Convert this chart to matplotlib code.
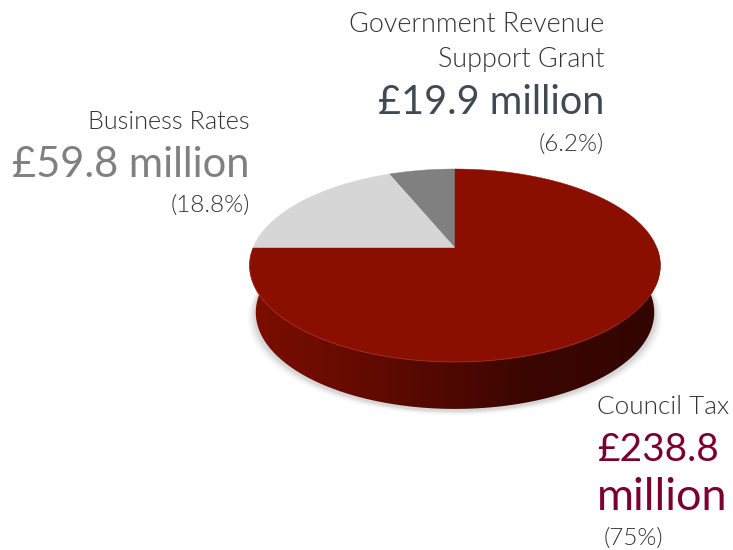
import os
import numpy as np
import matplotlib
matplotlib.use("Agg")
import matplotlib.pyplot as plt
from matplotlib import font_manager
from matplotlib.colors import LinearSegmentedColormap
from matplotlib.patches import Polygon

plt.rcParams['font.family'] = ['Lato', 'DejaVu Sans']

# values from the chart
categories = ['Council Tax', 'Business Rates', 'Government Revenue\nSupport Grant']
amounts = [238.8, 59.8, 19.9]
percent_labels = ['(75%)', '(18.8%)', '(6.2%)']
shares = [75.0, 18.8, 6.2]
slice_colors = ['#8a0f00', '#d6d6d6', '#808080']

# geometry of the tilted disc, in pixels
cx, cy = 455, 248
rx, ry, k = 202, 93.3, 0.181
depth = 47


def light_font(size):
    # weight='light' picks the hairline face here, so look the file up by name
    for path in font_manager.findSystemFonts():
        if os.path.basename(path).lower() == 'lato-light.ttf':
            return font_manager.FontProperties(fname=path, size=size)
    return font_manager.FontProperties(family='Lato', size=size)


def project(theta, scale=1.0, drop=0):
    # perspective view of a point on the unit circle
    u, v = np.cos(theta), np.sin(theta)
    w = 1 + k * v
    return cx + scale * rx * u / w, cy - ry * v / w + drop


fig = plt.figure(figsize=(7.33, 5.5), dpi=100)
ax = fig.add_axes([0, 0, 1, 1])
ax.set_xlim(0, 733)
ax.set_ylim(550, 0)
ax.axis('off')

# soft shadow under the disc
t = np.linspace(0, 2 * np.pi, 200)
for grow, alpha in zip([1.035, 1.025, 1.015, 1.006], [0.025, 0.035, 0.045, 0.06]):
    x, y = project(t, scale=0.975 * grow, drop=49)
    ax.fill(x, y + (grow - 1) * 120, color='black', alpha=alpha, lw=0, zorder=1)

# side wall: a left-to-right gradient clipped to the wall outline
wall = LinearSegmentedColormap.from_list('wall', ['#7c0e00', '#5e0a00', '#3c0600', '#320500'])
th = np.linspace(np.pi, 2 * np.pi, 300)
xt, yt = project(th)
xb, yb = project(th[::-1], scale=0.97, drop=depth)
outline = Polygon(np.c_[np.r_[xt, xb], np.r_[yt, yb]], closed=True, transform=ax.transData,
                  facecolor='none', edgecolor='none')
ax.add_patch(outline)
grad = ax.imshow(np.linspace(0, 1, 256)[None, :], cmap=wall, extent=(249, 661, 420, 240),
                 aspect='auto', zorder=2)
grad.set_clip_path(outline)
ax.set_xlim(0, 733)
ax.set_ylim(550, 0)

# top face: slices run anticlockwise from 12 o'clock (grant, rates, council)
angle = np.pi / 2
for i in [2, 1, 0]:
    sweep = shares[i] / 100 * 2 * np.pi
    th = np.linspace(angle, angle + sweep, 200)
    x, y = project(th)
    ax.fill(np.r_[cx, x], np.r_[cy, y], color=slice_colors[i], lw=0.3, zorder=3)
    angle += sweep

# thin highlight on the front rim
th = np.linspace(1.02 * np.pi, 1.75 * np.pi, 200)
x, y = project(th)
ax.plot(x, y, color='#a8301a', lw=0.7, alpha=0.7, zorder=4)

name_c = '#333333'
pct_font = light_font(17.5)
ax.text(604, 25, categories[2].split('\n')[0], ha='right', va='center', fontproperties=light_font(19.4), color=name_c, zorder=5)
ax.text(604, 60, categories[2].split('\n')[1], ha='right', va='center', fontproperties=light_font(19.4), color=name_c, zorder=5)
ax.text(604, 103, '£%.1f million' % amounts[2], ha='right', va='center', fontsize=28.5, color='#3f4a54', zorder=5)
ax.text(604, 144, percent_labels[2], ha='right', va='center', fontproperties=pct_font, color=name_c, zorder=5)

ax.text(250, 122, categories[1], ha='right', va='center', fontproperties=light_font(18.2), color=name_c, zorder=5)
ax.text(250, 165, '£%.1f million' % amounts[1], ha='right', va='center', fontsize=30, color='#808080', zorder=5)
ax.text(250, 205, percent_labels[1], ha='right', va='center', fontproperties=pct_font, color=name_c, zorder=5)

ax.text(597, 407, categories[0], ha='left', va='center', fontproperties=light_font(18.8), color=name_c, zorder=5)
ax.text(597, 450, '£%.1f' % amounts[0], ha='left', va='center', fontsize=28, color='#7a0030', zorder=5)
ax.text(597, 497, 'million', ha='left', va='center', fontsize=32.5, color='#7a0030', zorder=5)
ax.text(604, 538, percent_labels[0], ha='left', va='center', fontproperties=pct_font, color=name_c, zorder=5)

fig.savefig('out.png', dpi=100)
